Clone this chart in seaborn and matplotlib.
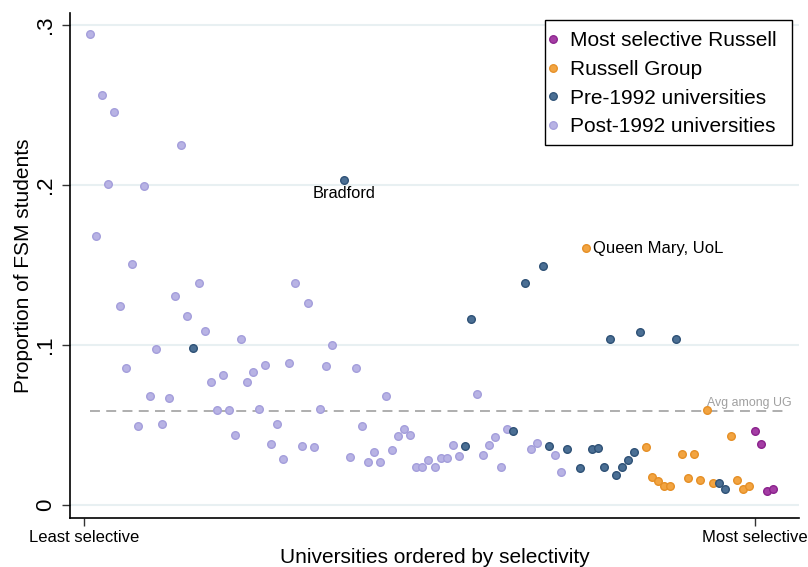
import matplotlib
matplotlib.use("Agg")
import matplotlib.pyplot as plt
import seaborn as sns
import pandas as pd
from matplotlib.lines import Line2D
from matplotlib.patches import Rectangle

# ---------------- data ----------------
post_rank = [1, 2, 3, 4, 5, 6, 7, 8, 9, 10, 11, 12, 13, 14, 15, 16, 17, 19, 20, 21,
             22, 23, 24, 25, 26, 27, 28, 29, 30, 31, 32, 33, 34, 35, 36, 37, 38, 39, 40, 41,
             44, 45, 46, 47, 48, 49, 50, 51, 52, 53, 54, 55, 56, 57, 58, 59, 60, 61, 62,
             65, 66, 67, 68, 69, 70, 74, 75, 78, 79]
post_fsm = [.2946, .168, .256, .2006, .2454, .1244, .0854, .1506, .0494, .1996, .0679, .0977,
            .0508, .0671, .1306, .225, .1183, .1386, .1088, .0767,
            .0596, .0815, .0594, .0440, .1040, .0771, .0831, .0600, .0875, .0379, .0504, .0290,
            .0890, .1386, .0371, .1263, .0365, .0600, .0869, .1002,
            .0302, .0856, .0492, .0267, .0329, .0269, .0681, .0342, .0429, .0475, .0438, .0240,
            .0235, .0283, .0235, .0292, .0294, .0377, .0306,
            .0691, .0310, .0377, .0427, .0235, .0473, .0348, .0385, .0313, .0206]

pre_rank = [18, 43, 63, 64, 71, 73, 76, 77, 80, 82, 84, 85, 86, 87, 88, 89, 90, 91, 92, 98, 105, 106]
pre_fsm = [.0979, .2031, .0371, .1163, .0460, .1387, .1496, .0371, .0352, .0231, .0350, .0358,
           .0238, .1038, .0185, .0238, .0283, .0331, .1079, .1040, .0138, .0098]

russell_rank = [83, 93, 94, 95, 96, 97, 99, 100, 101, 102, 103, 104, 107, 108, 109, 110]
russell_fsm = [.1606, .0363, .0177, .0148, .0117, .0121, .0317, .0167, .0317, .0156, .0592,
               .0138, .0433, .0154, .0102, .0119]

top_rank = [111, 112, 113, 114]
top_fsm = [.0460, .0379, .0090, .0100]

groups = ["Most selective Russell", "Russell Group", "Pre-1992 universities", "Post-1992 universities"]
avg_ug = 0.059
avg_span = [1, 116]
xtick_pos = [0, 111]
xtick_labels = ["Least selective", "Most selective"]
ytick_pos = [0, 0.1, 0.2, 0.3]
ytick_labels = ["0", ".1", ".2", ".3"]
annot_names = ["Bradford", "Queen Mary, UoL"]
annot_rank = [43, 83]
annot_fsm = [.2031, .1606]

# ---------------- frame ----------------
frames = []
for g, r, v in [(groups[3], post_rank, post_fsm), (groups[1], russell_rank, russell_fsm),
                (groups[2], pre_rank, pre_fsm), (groups[0], top_rank, top_fsm)]:
    frames.append(pd.DataFrame({"rank": r, "fsm": v, "group": g}))
df = pd.concat(frames, ignore_index=True)

face = {groups[0]: "#a43da4", groups[1]: "#f2a441", groups[2]: "#4b6f94", groups[3]: "#b8b3e4"}
edge = {groups[0]: "#8a228c", groups[1]: "#e58f26", groups[2]: "#2e5176", groups[3]: "#a49edb"}

sns.set_theme(style="white")
plt.rcParams["font.family"] = ["Liberation Sans", "DejaVu Sans"]
plt.rcParams["text.color"] = "black"
plt.rcParams["axes.labelcolor"] = "black"
plt.rcParams["xtick.color"] = "black"
plt.rcParams["ytick.color"] = "black"

W, H = 808, 567
fig = plt.figure(figsize=(W / 100, H / 100), dpi=100)
ax = fig.add_axes([70 / W, 1 - 518 / H, (799 - 70) / W, (518 - 12.7) / H])

for g in [groups[3], groups[1], groups[2], groups[0]]:
    sub = df[df["group"] == g]
    sns.scatterplot(data=sub, x="rank", y="fsm", ax=ax, color=face[g], edgecolor=edge[g],
                    linewidth=1.0, s=30, zorder=3, legend=False)

ax.set_xlim(-2.3, 118.3)
ax.set_ylim(-0.0081, 0.3077)

for yv in ytick_pos:
    ax.axhline(yv, color="#e8f0f2", lw=1.5, zorder=0)

ax.plot(avg_span, [avg_ug, avg_ug], ls=(0, (5.5, 3.5)), color="#a8a8a8", lw=1.3, zorder=2)
ax.text(avg_span[1] + 1.0, avg_ug + 0.0013, "Avg among UG", ha="right", va="bottom",
        fontsize=8.9, color="#a0a0a0")

ax.text(annot_rank[0], annot_fsm[0] - 0.0040, annot_names[0], ha="center", va="top", fontsize=11.8)
ax.text(annot_rank[1] + 1.2, annot_fsm[1], annot_names[1], ha="left", va="center", fontsize=12)

ax.set_yticks(ytick_pos)
ax.set_yticklabels(ytick_labels, rotation=90, va="center", fontsize=16)
ax.set_xticks(xtick_pos)
ax.set_xticklabels(xtick_labels, fontsize=12)
ax.tick_params(axis="both", which="both", length=6, width=1, color="#333333", direction="out",
               left=True, bottom=True)
ax.tick_params(axis="y", pad=4)
ax.tick_params(axis="x", pad=3)

ax.set_xlabel("Universities ordered by selectivity", fontsize=15, labelpad=2)
ax.set_ylabel("Proportion of FSM students", fontsize=15, labelpad=1.8)

for s in ["top", "right"]:
    ax.spines[s].set_visible(False)
for s in ["left", "bottom"]:
    ax.spines[s].set_color("black")
    ax.spines[s].set_linewidth(1.2)

handles = [Line2D([], [], marker="o", ls="", markerfacecolor=face[g], markeredgecolor=edge[g],
                  markersize=5.5, markeredgewidth=0.9) for g in groups]
box = Rectangle((545 / W, 1 - 145 / H), (792 - 545) / W, (145 - 20) / H,
                transform=fig.transFigure, facecolor="white", edgecolor="black", lw=1.0,
                zorder=6, clip_on=False)
ax.add_patch(box)
leg = ax.legend(handles, groups, loc="upper left", bbox_to_anchor=(547.8 / W, 1 - 31 / H),
                bbox_transform=fig.transFigure, fontsize=15, frameon=False,
                labelspacing=0.47, handlelength=0.5, handletextpad=0.57, borderpad=0,
                borderaxespad=0)
leg.set_zorder(7)

fig.savefig("out.png", dpi=100)
